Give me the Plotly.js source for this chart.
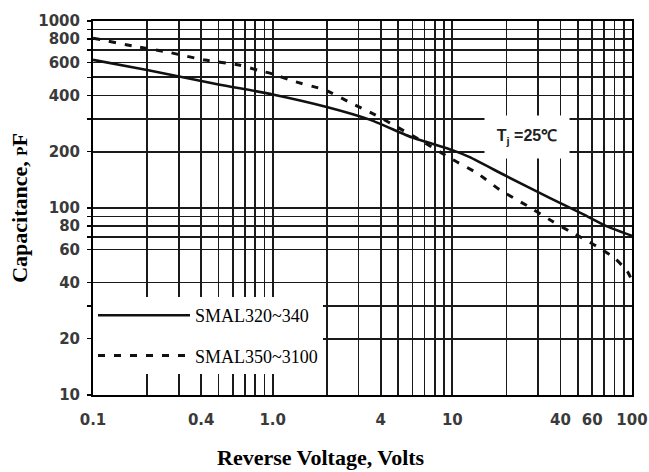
<!DOCTYPE html>
<html>
<head>
<meta charset="utf-8">
<script src="https://cdn.plot.ly/plotly-3.0.1.min.js"></script>
<style>html,body{margin:0;padding:0;background:#fff;}#chart{width:649px;height:472px;}</style>
</head>
<body>
<div id="chart"></div>
<script>
// Series: SMAL320~340 (solid)
const solidV = [0.1, 0.2, 0.5, 1, 2, 3.5, 6, 10, 12.5, 20, 35, 53, 72, 100];
const solidC = [620, 547, 458, 405, 347, 296, 238, 204, 187, 148, 113, 93, 80, 71];
// Series: SMAL350~3100 (dashed)
const dashV = [0.1, 0.167, 0.26, 0.42, 0.65, 0.83, 1.0, 1.3, 1.95, 2.8, 3.7, 6.6, 10.1, 13.7, 18.4, 26, 36, 45, 56, 68, 80, 94, 100];
const dashC = [810, 735, 682, 618, 582, 545, 521, 477, 428, 360, 316, 231, 181, 154, 125, 103, 85, 75, 67, 60, 54, 46, 41];

const seriesNames = ['SMAL320~340', 'SMAL350~3100'];

// Grid / tick values and labels
const xTickVals = [0.1,0.2,0.3,0.4,0.5,0.6,0.7,0.8,0.9,1,2,3,4,5,6,7,8,9,10,20,30,40,50,60,70,80,90,100];
const xTickText = ['0.1','','','0.4','','','','','','1.0','','','4','','','','','','10','','','40','','60','','','','100'];
const yTickVals = [10,20,30,40,60,70,80,90,100,200,300,400,500,600,700,800,900,1000];
const yTickText = ['10','20','','40','60','','80','','100','200','','400','','600','','800','','1000'];

const tickFont = {family: 'DejaVu Sans', size: 15, color: '#3a3a3a', weight: 'bold'};

const traces = [
  {x: solidV, y: solidC, name: seriesNames[0], legendgroup: 'a', mode: 'lines', type: 'scatter',
   line: {color: '#111', width: 2.6, shape: 'spline', smoothing: 0.5}},
  {x: dashV, y: dashC, name: seriesNames[1], legendgroup: 'b', mode: 'lines', type: 'scatter',
   line: {color: '#111', width: 3, dash: '7px,9px', shape: 'spline', smoothing: 0.5}}
];

const layout = {
  width: 649, height: 472,
  margin: {l: 93, r: 17, t: 21, b: 77},
  paper_bgcolor: '#fff', plot_bgcolor: '#fff',
  showlegend: true,
  legend: {
    x: 0, y: 0.262, xanchor: 'left', yanchor: 'top',
    bgcolor: '#fff', borderwidth: 0,
    font: {family: 'Liberation Serif', size: 18, color: '#000'},
    itemwidth: 92, traceorder: 'grouped', tracegroupgap: 14
  },
  xaxis: {
    type: 'log', range: [-1, 2],
    tickmode: 'array', tickvals: xTickVals, ticktext: xTickText,
    showgrid: true, gridcolor: '#1a1a1a', gridwidth: 1.7,
    showline: true, linecolor: '#000', linewidth: 2, mirror: true,
    ticks: '', tickfont: tickFont, ticklabelstandoff: 10,
    zeroline: false
  },
  yaxis: {
    type: 'log', range: [1, 3],
    tickmode: 'array', tickvals: yTickVals, ticktext: yTickText,
    showgrid: true, gridcolor: '#1a1a1a', gridwidth: 1.7,
    showline: true, linecolor: '#000', linewidth: 2, mirror: true,
    ticks: 'outside', ticklen: 4, tickwidth: 1.5, tickcolor: '#000',
    tickfont: tickFont, ticklabelstandoff: 4,
    zeroline: false,
    title: {text: 'Capacitance, <span style="font-size:15px">P</span>F', standoff: 5,
            font: {family: 'Liberation Serif', size: 22, color: '#000', weight: 'bold'}}
  },
  annotations: [
    {xref: 'paper', yref: 'paper', x: 0.423, y: -0.168, xanchor: 'center', yanchor: 'middle',
     text: 'Reverse Voltage, Volts', showarrow: false,
     font: {family: 'Liberation Serif', size: 22, color: '#000', weight: 'bold'}},
    {xref: 'paper', yref: 'paper', x: 0.805, y: 0.69, xanchor: 'center', yanchor: 'middle',
     text: 'T<sub>j</sub> =25\u2103', showarrow: false, bgcolor: '#fff', width: 82, height: 40,
     font: {family: 'Liberation Sans', size: 16, color: '#222', weight: 'bold'}}
  ]
};

Plotly.newPlot('chart', traces, layout, {displayModeBar: false, staticPlot: true});
</script>
</body>
</html>
